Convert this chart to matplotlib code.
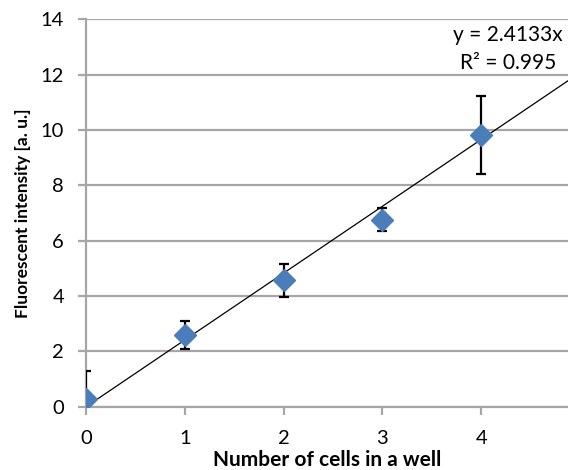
import numpy as np
import matplotlib.pyplot as plt

# Data
cells = [0, 1, 2, 3, 4]
intensity = [0.27, 2.59, 4.56, 6.75, 9.82]
err = [1.0, 0.5, 0.6, 0.42, 1.4]
slope = 2.4133
r2 = 0.995

plt.rcParams['font.family'] = ['Lato', 'DejaVu Sans']

fig = plt.figure(figsize=(5.68, 4.70), dpi=100)
ax = fig.add_axes([0.152, 0.135, 0.848, 0.824])

grid_c = '#a6a6a6'

# trend line through the origin
xl = np.array([0, 4.88])
ax.plot(xl, slope * xl, color='black', linewidth=0.9, zorder=3)

ax.errorbar(cells, intensity, yerr=err, fmt='none', ecolor='black',
            elinewidth=1.6, capsize=3.5, capthick=1.6, zorder=4)
ax.plot(cells, intensity, linestyle='none', marker='D', markersize=11,
        color='#4a7ebb', markeredgecolor='#4a7ebb', zorder=5)

ax.set_xlim(0, 4.88)
ax.set_ylim(0, 14)
ax.set_xticks(range(0, 5))
ax.set_yticks(range(0, 15, 2))
ax.yaxis.grid(True, color=grid_c, linewidth=1.6)
ax.set_axisbelow(True)

for s in ['top', 'right']:
    ax.spines[s].set_visible(False)
for s in ['left', 'bottom']:
    ax.spines[s].set_color(grid_c)
    ax.spines[s].set_linewidth(1.6)

ax.tick_params(axis='both', direction='out', length=6, width=1.6,
               color=grid_c, labelsize=14.5)
ax.tick_params(axis='x', pad=11)
ax.tick_params(axis='y', pad=10)

ax.set_xlabel('Number of cells in a well', fontsize=15, fontweight='bold',
              labelpad=2)
ax.set_ylabel('Fluorescent intensity [a. u.]', fontsize=12.5, fontweight='bold',
              labelpad=7)

ax.text(0.875, 0.960, f'y = {slope}x', transform=ax.transAxes,
        ha='center', va='center', fontsize=15)
ax.text(0.875, 0.888, f'R² = {r2}', transform=ax.transAxes,
        ha='center', va='center', fontsize=15)

fig.savefig('out.png', dpi=100)
